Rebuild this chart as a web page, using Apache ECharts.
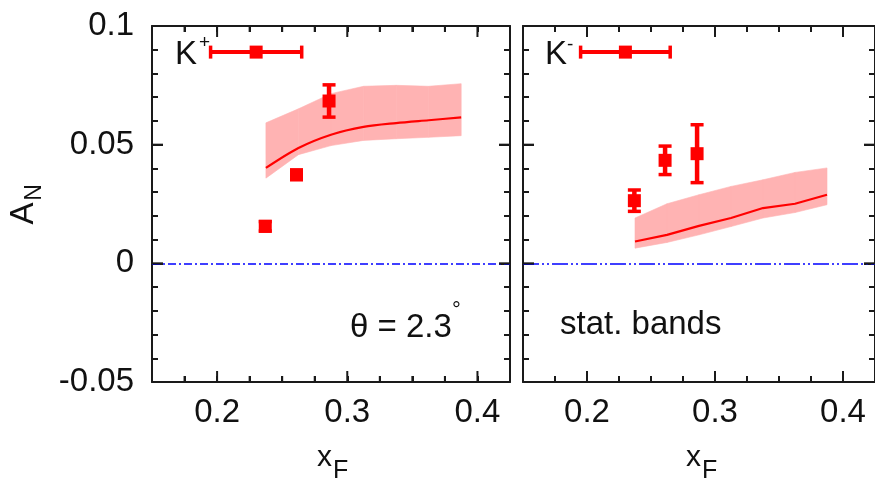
<!DOCTYPE html>
<html><head><meta charset="utf-8">
<script src="https://cdn.jsdelivr.net/npm/echarts@6/dist/echarts.min.js"></script>
<style>html,body{margin:0;padding:0;background:#fff}#c{width:875px;height:480px}</style>
</head><body><div id="c"></div>
<script>
// ---- axis ranges / ticks ----
const xMin = 0.15, xMax = 0.425, xMinorStep = 0.025;
const yMin = -0.05, yMax = 0.1, yStep = 0.05;
const xMajorTicks = [0.2, 0.3, 0.4];
const xMinorTicks = [0.175, 0.225, 0.25, 0.275, 0.325, 0.35, 0.375];
const yMajorTicks = [0, 0.05];

// ---- theory bands (stat. bands) ----
const bandX   = [0.2375, 0.2625, 0.2875, 0.3125, 0.3375, 0.3625, 0.3875];
const kpLine  = [0.0402, 0.0486, 0.0542, 0.0575, 0.0591, 0.0603, 0.0615];
const kpUpper = [0.0592, 0.0651, 0.0715, 0.0746, 0.0750, 0.0746, 0.0757];
const kpLower = [0.0359, 0.0458, 0.0496, 0.0518, 0.0525, 0.0531, 0.0538];
const kmLine  = [0.0092, 0.0120, 0.0158, 0.0191, 0.0233, 0.0251, 0.0289];
const kmUpper = [0.0191, 0.0251, 0.0289, 0.0324, 0.0352, 0.0383, 0.0402];
const kmLower = [0.0064, 0.0088, 0.0120, 0.0155, 0.0191, 0.0214, 0.0247];

// ---- data points ----
const kpX   = [0.237, 0.261, 0.286];
const kpY   = [0.0156, 0.0373, 0.0684];
const kpErr = [0.002, 0.002, 0.0068];
const kmX   = [0.237, 0.261, 0.286];
const kmY   = [0.0264, 0.0434, 0.0462];
const kmErr = [0.0045, 0.006, 0.0122];

// ---- key symbol (x-bin) ----
const keyX = [0.23], keyXLow = [0.195], keyXHigh = [0.265], keyY = [0.089];

const RED = '#ff0000', BAND = '#ffb3b3', INK = '#1a1a1a', FONT = '"Liberation Sans", Arial, sans-serif';
const isMajorX = v => xMajorTicks.some(m => Math.abs(m - v) < 1e-6);

function xAxes(gi) {
  const base = {type: 'value', gridIndex: gi, min: xMin, max: xMax, interval: xMinorStep, splitLine: {show: false},
    zlevel: 1, z: 5,
    axisLine: {show: true, onZero: false, lineStyle: {color: INK, width: 2}},
    axisTick: {show: true, inside: true, length: 6, lineStyle: {color: INK, width: 2}}};
  return [
    Object.assign({}, base, {position: 'bottom',
      axisLabel: {show: true, margin: 14, fontSize: 33, fontFamily: FONT, color: '#111',
        showMinLabel: false, showMaxLabel: false, hideOverlap: false,
        formatter: v => (isMajorX(+v) ? String(+(+v).toFixed(3)) : '')}}),
    Object.assign({}, base, {position: 'top', axisLabel: {show: false}})
  ];
}
function yAxes(gi, labels) {
  const base = {type: 'value', gridIndex: gi, min: yMin, max: yMax, interval: yStep, splitLine: {show: false},
    axisLine: {show: true, onZero: false, lineStyle: {color: INK, width: 2}},
    axisTick: {show: true, inside: true, length: 11, lineStyle: {color: INK, width: 2}},
    minorTick: {show: true, splitNumber: 5, length: 6, lineStyle: {color: INK, width: 2}}};
  return [
    Object.assign({}, base, {position: 'left', axisLabel: {show: labels, margin: 18, fontSize: 33, fontFamily: FONT, color: '#111',
      padding: [0, 0, 6, 0], formatter: v => String(+(+v).toFixed(3))}}),
    Object.assign({}, base, {position: 'right', axisLabel: {show: false}})
  ];
}

function bandRender(params, api) {
  const i = params.dataIndex;
  if (i >= bandX.length - 1) return;
  const a1 = api.coord([api.value(0), api.value(2)]);
  const a2 = api.coord([api.value(3), api.value(5)]);
  const b2 = api.coord([api.value(3), api.value(4)]);
  const b1 = api.coord([api.value(0), api.value(1)]);
  return {type: 'polygon', shape: {points: [a1, a2, b2, b1]}, style: {fill: BAND, stroke: BAND, lineWidth: 0.6}};
}
function bandData(lower, upper) {
  return bandX.map((x, i) => {
    const j = Math.min(i + 1, bandX.length - 1);
    return [x, lower[i], upper[i], bandX[j], lower[j], upper[j]];
  });
}
function errRender(params, api) {
  const x = api.value(0), y = api.value(1), e = api.value(2);
  const c = api.coord([x, y]), t = api.coord([x, y + e]), b = api.coord([x, y - e]);
  const hw = 6.5;
  return {type: 'group', children: [
    {type: 'line', shape: {x1: c[0], y1: t[1], x2: c[0], y2: b[1]}, style: {stroke: RED, lineWidth: 4.5}},
    {type: 'line', shape: {x1: c[0] - hw, y1: t[1], x2: c[0] + hw, y2: t[1]}, style: {stroke: RED, lineWidth: 3.5}},
    {type: 'line', shape: {x1: c[0] - hw, y1: b[1], x2: c[0] + hw, y2: b[1]}, style: {stroke: RED, lineWidth: 3.5}}
  ]};
}
function keyRender(params, api) {
  const y = api.value(1);
  const c = api.coord([api.value(0), y]), l = api.coord([api.value(2), y]), r = api.coord([api.value(3), y]);
  const hh = 6.5;
  return {type: 'group', children: [
    {type: 'line', shape: {x1: l[0], y1: c[1], x2: r[0], y2: c[1]}, style: {stroke: RED, lineWidth: 4}},
    {type: 'line', shape: {x1: l[0], y1: c[1] - hh, x2: l[0], y2: c[1] + hh}, style: {stroke: RED, lineWidth: 3.5}},
    {type: 'line', shape: {x1: r[0], y1: c[1] - hh, x2: r[0], y2: c[1] + hh}, style: {stroke: RED, lineWidth: 3.5}},
    {type: 'rect', shape: {x: c[0] - 6.5, y: c[1] - 6.5, width: 13, height: 13}, style: {fill: RED}}
  ]};
}

function panelSeries(xi, yi, line, upper, lower, px, py, perr, smooth, dash) {
  return [
    {type: 'custom', xAxisIndex: xi, yAxisIndex: yi, renderItem: bandRender, encode: {x: [0, 3], y: [1, 2, 4, 5]},
      data: bandData(lower, upper), silent: true, z: 1},
    {type: 'line', xAxisIndex: xi, yAxisIndex: yi, data: bandX.map((x, i) => [x, line[i]]),
      symbol: 'none', smooth, lineStyle: {color: RED, width: 2.2}, silent: true, z: 2,
      markLine: {silent: true, symbol: ['none', 'none'], label: {show: false}, animation: false,
        lineStyle: {color: '#0000ff', width: 1.6, type: dash}, data: [{yAxis: 0}]}},
    {type: 'custom', xAxisIndex: xi, yAxisIndex: yi, renderItem: errRender, encode: {x: 0, y: 1},
      data: px.map((x, i) => [x, py[i], perr[i]]), z: 3},
    {type: 'scatter', xAxisIndex: xi, yAxisIndex: yi, symbol: 'rect', symbolSize: 13,
      itemStyle: {color: RED, opacity: 1}, data: px.map((x, i) => [x, py[i]]), z: 4},
    {type: 'custom', xAxisIndex: xi, yAxisIndex: yi, renderItem: keyRender, encode: {x: 0, y: 1},
      data: keyX.map((x, i) => [x, keyY[i], keyXLow[i], keyXHigh[i]]), z: 4}
  ];
}

function txt(x, y, text, size, extra) {
  return Object.assign({type: 'text', x, y, silent: true,
    style: Object.assign({text, fontSize: size, fontFamily: FONT, fill: '#111', verticalAlign: 'middle', align: 'left'}, extra || {})});
}
const texts = [
  txt(175, 55, 'K', 33),
  txt(199, 43, '+', 19),
  txt(545, 55, 'K', 33),
  txt(567, 45, '-', 19),
  txt(350, 327.5, '\u03b8 = 2.3', 33),
  txt(452, 311, '\u00b0', 22),
  txt(560, 325, 'stat. bands', 33),
  txt(317, 457.5, 'x', 30),
  txt(333, 471, 'F', 25),
  txt(686, 457.5, 'x', 30),
  txt(702, 471, 'F', 25),
  Object.assign(txt(24, 213.5, 'A', 33, {align: 'center'}), {rotation: Math.PI / 2}),
  Object.assign(txt(35, 192.5, 'N', 23, {align: 'center'}), {rotation: Math.PI / 2})
];

const chart = echarts.init(document.getElementById('c'));
chart.setOption({
  animation: false,
  backgroundColor: '#fff',
  grid: [
    {left: 152, top: 26, width: 358, height: 356},
    {left: 523, top: 26, width: 358, height: 356}
  ],
  xAxis: xAxes(0).concat(xAxes(1)),
  yAxis: yAxes(0, true).concat(yAxes(1, false)),
  series: panelSeries(0, 0, kpLine, kpUpper, kpLower, kpX, kpY, kpErr, 0.3, [8, 3, 2, 3])
    .concat(panelSeries(2, 2, kmLine, kmUpper, kmLower, kmX, kmY, kmErr, false, [16, 3, 2, 3, 2, 3]))
});

// inward tick marks, positioned through the axes' own scales
const tickMarks = [];
function tickLine(x1, y1, x2, y2) {
  tickMarks.push({type: 'line', silent: true, z: 100, zlevel: 2,
    shape: {x1, y1, x2, y2}, style: {stroke: INK, lineWidth: 2}});
}
[[0, 0], [2, 2]].forEach(([xi, yi]) => {
  const finder = {xAxisIndex: xi, yAxisIndex: yi};
  const addX = (vals, len) => vals.forEach(v => {
    const b = chart.convertToPixel(finder, [v, yMin]), t = chart.convertToPixel(finder, [v, yMax]);
    tickLine(b[0], b[1], b[0], b[1] - len);
    tickLine(t[0], t[1], t[0], t[1] + len);
  });
  addX(xMajorTicks, 11);
  addX(xMinorTicks, 6);
  yMajorTicks.forEach(v => {
    const l = chart.convertToPixel(finder, [xMin, v]), r = chart.convertToPixel(finder, [xMax, v]);
    tickLine(l[0], l[1], l[0] + 11, l[1]);
    tickLine(r[0], r[1], r[0] - 11, r[1]);
  });
});
chart.setOption({graphic: texts.concat(tickMarks)});
</script></body></html>
